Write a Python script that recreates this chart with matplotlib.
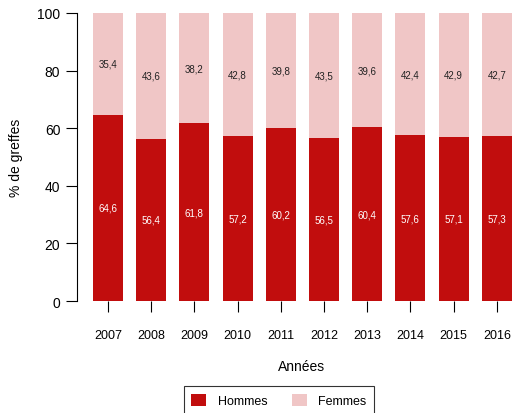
import numpy as np
import matplotlib
matplotlib.use("Agg")
import matplotlib.pyplot as plt
from matplotlib.patches import Patch

plt.rcParams['font.family'] = ['Liberation Sans', 'DejaVu Sans']

annees = ["2007", "2008", "2009", "2010", "2011", "2012", "2013", "2014", "2015", "2016"]
hommes = [64.6, 56.4, 61.8, 57.2, 60.2, 56.5, 60.4, 57.6, 57.1, 57.3]
femmes = [35.4, 43.6, 38.2, 42.8, 39.8, 43.5, 39.6, 42.4, 42.9, 42.7]

c_h = "#c10d0d"
c_f = "#f0c6c6"

W, H = 512, 414
fig = plt.figure(figsize=(W / 100, H / 100), dpi=100)
ax = fig.add_axes([77 / W, (H - 302) / H, (W - 77) / W, 288 / H])

x = np.arange(len(annees))
ax.bar(x, hommes, width=0.694, color=c_h, linewidth=0)
ax.bar(x, femmes, bottom=hommes, width=0.694, color=c_f, linewidth=0)

# labels in the middle of each segment
for i in range(len(annees)):
    ax.text(x[i], hommes[i] / 2, f"{hommes[i]:.1f}".replace(".", ","),
            ha="center", va="center", color="white", fontsize=7)
    ax.text(x[i], hommes[i] + femmes[i] / 2, f"{femmes[i]:.1f}".replace(".", ","),
            ha="center", va="center", color="#222222", fontsize=7)

ax.set_xlim(-0.718, 9.35)
ax.set_ylim(0, 100)
for s in ["top", "right", "bottom"]:
    ax.spines[s].set_visible(False)
ax.set_yticks([0, 20, 40, 60, 80, 100])
ax.set_xticks(x)
ax.set_xticklabels(annees)
ax.tick_params(axis="y", length=8, labelsize=10, pad=4)
ax.tick_params(axis="x", length=8, labelsize=9, pad=12)
ax.set_ylabel("% de greffes", fontsize=10, labelpad=10)

fig.text(302 / W, 1 - 367 / H, "Années", ha="center", va="center", fontsize=10)

handles = [Patch(facecolor=c_h, label="Hommes"), Patch(facecolor=c_f, label="Femmes")]
leg = fig.legend(handles=handles, loc="upper center", bbox_to_anchor=(279 / W, 1 - 387 / H),
                 ncol=2, frameon=True, fancybox=False, edgecolor="black", fontsize=9,
                 handlelength=1.2, handleheight=1.2, columnspacing=2.0, borderpad=0.6,
                 handletextpad=0.9, borderaxespad=0)
leg.get_frame().set_linewidth(0.8)

fig.savefig("out.png", dpi=100)
